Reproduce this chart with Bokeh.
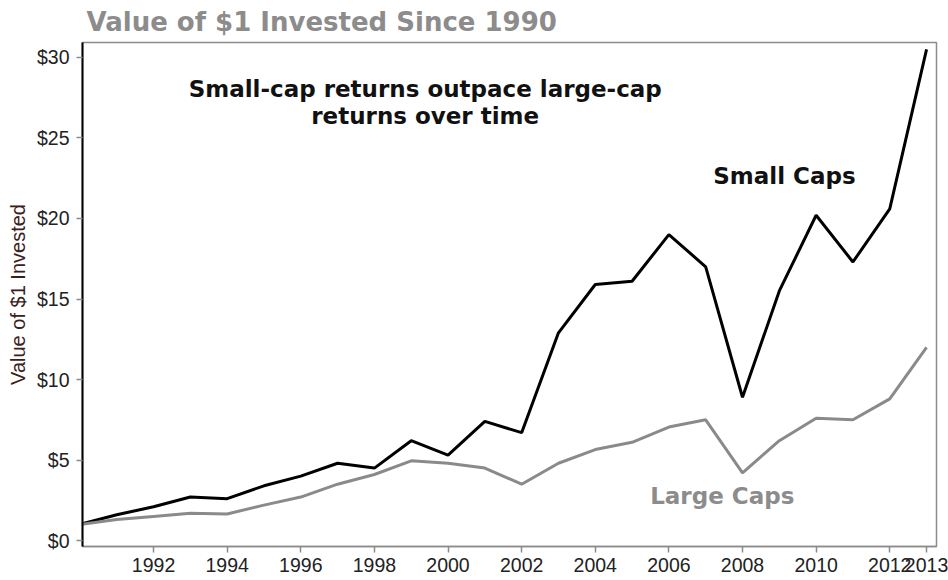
from bokeh.plotting import figure
from bokeh.models import Range1d, FixedTicker, PrintfTickFormatter, Label
from bokeh.embed import file_html
from bokeh.resources import INLINE

years = list(range(1990, 2014))
small_caps = [1.0, 1.6, 2.1, 2.7, 2.6, 3.4, 4.0, 4.8, 4.5, 6.2, 5.3, 7.4,
              6.7, 12.9, 15.9, 16.1, 19.0, 17.0, 8.9, 15.5, 20.2, 17.3, 20.6, 30.5]
large_caps = [1.0, 1.3, 1.5, 1.7, 1.65, 2.2, 2.7, 3.5, 4.1, 4.95, 4.8, 4.5,
              3.5, 4.8, 5.65, 6.1, 7.05, 7.5, 4.2, 6.2, 7.6, 7.5, 8.8, 12.0]
x_ticks = [1992, 1994, 1996, 1998, 2000, 2002, 2004, 2006, 2008, 2010, 2012, 2013]
y_ticks = [0, 5, 10, 15, 20, 25, 30]

TXT_FONT = "DejaVu Sans"
AX_FONT = "Liberation Sans"

p = figure(width=948, height=580, output_backend="svg", toolbar_location=None,
           x_range=Range1d(1990.07, 2013.27), y_range=Range1d(-0.37, 30.93),
           min_border_left=82, min_border_right=12, min_border_top=42,
           min_border_bottom=34, title="Value of $1 Invested Since 1990")

p.title.text_font = TXT_FONT
p.title.text_font_style = "bold"
p.title.text_font_size = "26px"
p.title.text_color = "#8c8c8c"
p.title.offset = 4
p.title.standoff = 8
p.title.vertical_align = "top"

p.line(years, small_caps, line_color="black", line_width=3)
p.line(years, large_caps, line_color="#8a8a8a", line_width=3)

p.xgrid.visible = False
p.ygrid.visible = False
p.outline_line_color = "#8c8c8c"
p.outline_line_width = 1.5

p.xaxis.ticker = FixedTicker(ticks=x_ticks)
p.yaxis.ticker = FixedTicker(ticks=y_ticks)
p.yaxis.formatter = PrintfTickFormatter(format="$%d")

for ax in (p.xaxis, p.yaxis):
    ax.major_label_text_font = AX_FONT
    ax.major_label_text_font_size = "19.5px"
    ax.major_label_text_color = "#222222"
    ax.minor_tick_line_color = None
    ax.major_tick_in = 0
    ax.major_tick_out = 6
    ax.major_tick_line_color = "#8c8c8c"
    ax.major_tick_line_width = 1.5

p.yaxis.axis_line_color = "black"
p.yaxis.axis_line_width = 2
p.xaxis.axis_line_color = "#8c8c8c"
p.xaxis.axis_line_width = 1.5
p.yaxis.major_label_standoff = 7
p.xaxis.major_label_standoff = 5

p.yaxis.axis_label = "Value of $1 Invested"
p.yaxis.axis_label_text_font = AX_FONT
p.yaxis.axis_label_text_font_size = "20px"
p.yaxis.axis_label_text_font_style = "normal"
p.yaxis.axis_label_text_color = "#3a2020"
p.yaxis.axis_label_standoff = 5

def add_label(x, y, text, color):
    p.add_layout(Label(x=x, y=y, text=text, text_font=TXT_FONT,
                       text_font_style="bold", text_font_size="23px",
                       text_color=color, text_align="center",
                       text_baseline="middle"))

add_label(1999.38, 28.06, "Small-cap returns outpace large-cap", "#111111")
add_label(1999.38, 26.38, "returns over time", "#111111")
add_label(2009.14, 22.66, "Small Caps", "#111111")
add_label(2007.45, 2.79, "Large Caps", "#8c8c8c")

open("out.html", "w").write(file_html(p, INLINE))
